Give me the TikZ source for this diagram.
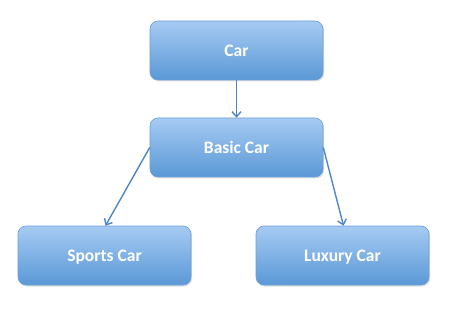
\documentclass[tikz,border=0pt]{standalone}
\usepackage{fontspec}
\setmainfont{Carlito}
\usetikzlibrary{arrows.meta,shadows}
\definecolor{boxtop}{HTML}{A6CBF3}
\definecolor{boxbot}{HTML}{5A98D6}
\definecolor{boxline}{HTML}{6A9FD8}
\definecolor{arrowc}{HTML}{4F86C6}
\tikzset{
  box/.style={draw=boxline, line width=0.6pt, rounded corners=8pt,
    top color=boxtop, bottom color=boxbot, minimum width=173pt, minimum height=59pt,
    text=white, font=\fontsize{17.5}{19}\selectfont\bfseries, inner sep=0pt,
    text depth=0pt, drop shadow={shadow xshift=1.2pt, shadow yshift=-1.5pt, opacity=0.25}},
  conn/.style={draw=arrowc, line width=1.4pt, -{Straight Barb[length=5pt,width=9pt]}}
}
\begin{document}
\begin{tikzpicture}[x=1pt,y=-1pt]
\useasboundingbox (0,0) rectangle (450,318);
\node[box] (car) at (236.5,50.5) {Car};
\node[box] (basic) at (236.5,147.5) {Basic Car};
\node[box] (sports) at (104.5,255.5) {Sports Car};
\node[box] (luxury) at (342.5,255.5) {Luxury Car};
\draw[conn] (car.south) -- (basic.north);
\draw[conn] (basic.west) -- ([xshift=1pt]sports.north);
\draw[conn] (basic.east) -- ([xshift=1pt]luxury.north);
\end{tikzpicture}
\end{document}
